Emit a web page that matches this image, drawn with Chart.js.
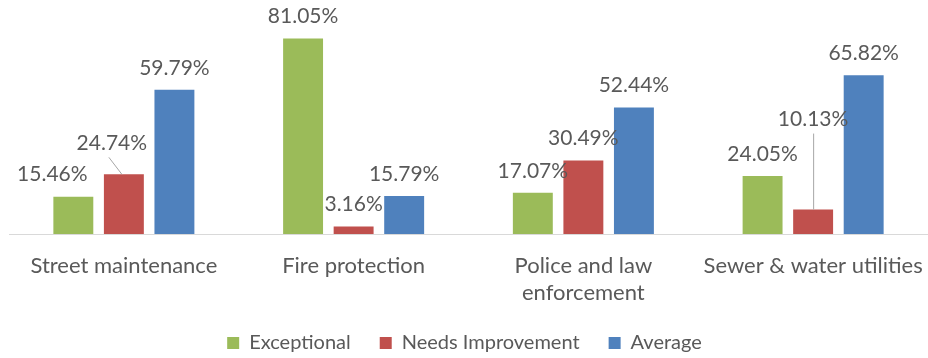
<!DOCTYPE html>
<html>
<head>
<meta charset="utf-8">
<script src="https://cdn.jsdelivr.net/npm/chart.js@4/dist/chart.umd.min.js"></script>
<style>
  html, body { margin: 0; padding: 0; background: #fff; }
  #wrap { width: 928px; height: 358px; }
</style>
</head>
<body>
<div id="wrap"><canvas id="chart"></canvas></div>
<script>
const categories = ["Street maintenance", "Fire protection", ["Police and law", "enforcement"], "Sewer & water utilities"];
const exceptional = [15.46, 81.05, 17.07, 24.05];
const needsImprovement = [24.74, 3.16, 30.49, 10.13];
const average = [59.79, 15.79, 52.44, 65.82];

// label nudges (dx, dy from default spot, leader line if moved)
const labelShift = {
  "0-0": [-21, 0, false],
  "1-0": [-12, -9, true],
  "1-3": [0, -68, true]
};

const labelPlugin = {
  id: "barLabels",
  afterLayout(c) {
    // legend sits a little left of centre in the original
    if (c.legend) { c.legend.left -= 9; c.legend.right -= 9; }
  },
  afterDatasetsDraw(c) {
    const ctx = c.ctx;
    ctx.save();
    ctx.font = "21px Lato";
    ctx.fillStyle = "#595959";
    ctx.textAlign = "center";
    ctx.textBaseline = "middle";
    c.data.datasets.forEach((ds, di) => {
      c.getDatasetMeta(di).data.forEach((bar, i) => {
        const s = labelShift[di + "-" + i] || [0, 0, false];
        const x = bar.x + s[0];
        const y = bar.y - 22 + s[1];
        if (s[2]) {
          ctx.strokeStyle = "#a6a6a6";
          ctx.lineWidth = 1;
          ctx.beginPath();
          if (s[0] !== 0) {
            ctx.moveTo(x - 3, y + 14);
            ctx.lineTo(bar.x - 2, bar.y);
          } else {
            ctx.moveTo(x + 0.5, y + 14);
            ctx.lineTo(x + 0.5, bar.y);
          }
          ctx.stroke();
        }
        ctx.fillText(ds.data[i].toFixed(2) + "%", x, y);
      });
    });
    ctx.restore();
  }
};

new Chart(document.getElementById("chart"), {
  type: "bar",
  data: {
    labels: categories,
    datasets: [
      { label: "Exceptional", data: exceptional, backgroundColor: "#9bbb59" },
      { label: "Needs Improvement", data: needsImprovement, backgroundColor: "#c0504d" },
      { label: "Average", data: average, backgroundColor: "#4f81bd" }
    ]
  },
  options: {
    responsive: true,
    maintainAspectRatio: false,
    animation: false,
    layout: { padding: { top: 29, left: 9, right: -10, bottom: -5 } },
    datasets: { bar: { categoryPercentage: 0.66, barPercentage: 0.79 } },
    plugins: {
      tooltip: { enabled: false },
      legend: {
        position: "bottom",
        labels: {
          boxWidth: 12, boxHeight: 12, padding: 29,
          color: "#595959",
          font: { family: "Lato", size: 20 }
        }
      }
    },
    scales: {
      x: {
        grid: { display: false, drawTicks: false },
        border: { color: "#d9d9d9" },
        ticks: { color: "#595959", padding: 18, font: { family: "Lato", size: 22, lineHeight: 1.25 } },
        afterFit(scale) {
          scale.height -= 21;
          scale.paddingLeft = 0;
          scale.paddingRight = 0;
        }
      },
      y: { display: false, min: 0, max: 85 }
    }
  },
  plugins: [labelPlugin]
});
</script>
</body>
</html>
